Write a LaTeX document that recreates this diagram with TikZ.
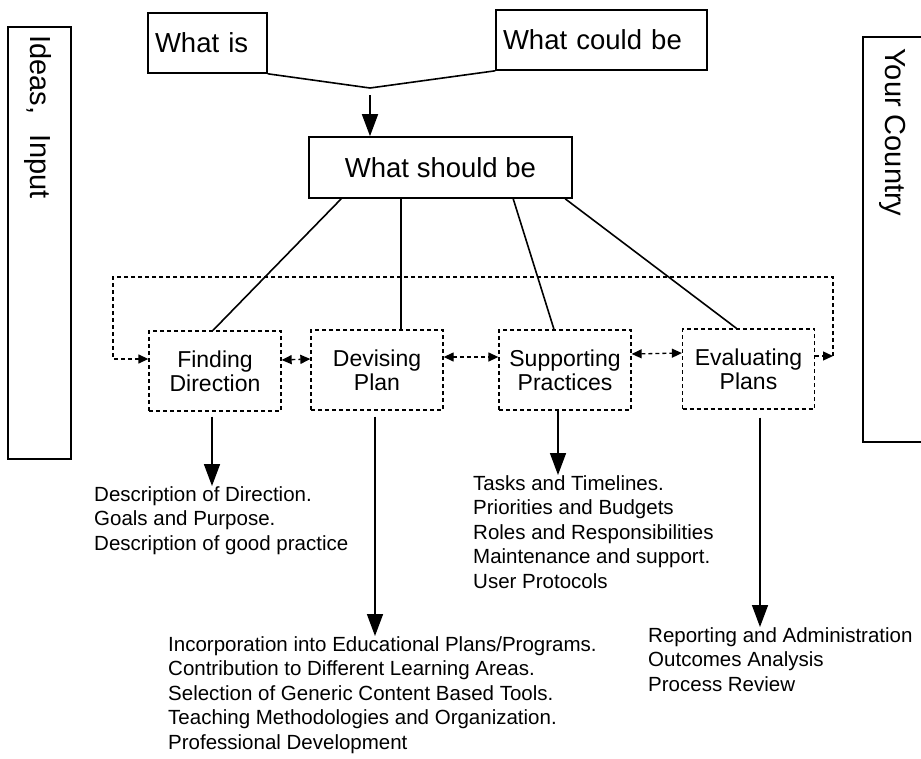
\documentclass[tikz,border=0pt]{standalone}
\usepackage{fontspec}
\setmainfont{Liberation Sans}
\usetikzlibrary{arrows.meta}

\begin{document}
\begin{tikzpicture}[x=1pt, y=-1pt,
		solidbox/.style={draw, line width=1.6pt, inner sep=0pt},
		topbox/.style={solidbox, minimum height=60pt, align=left, font=\fontsize{27.5}{29}\selectfont},
		dashbox/.style={draw, line width=1.3pt, dash pattern=on 4pt off 3pt, minimum width=132pt, minimum height=80pt, inner sep=0pt, align=center, font=\fontsize{23}{24}\selectfont},
		listtext/.style={anchor=north west, inner sep=0pt, align=left, font=\fontsize{20.5}{24.5}\selectfont},
		sidetext/.style={rotate=-90, anchor=west, inner sep=0pt, font=\fontsize{29}{30}\selectfont},
		joinline/.style={line width=1.6pt},
		bigarrow/.style={line width=1.6pt, -{Triangle[width=16pt,length=22pt]}},
		dasharrow/.style={line width=1.3pt, dash pattern=on 4pt off 3pt, -{Triangle[width=9pt,length=10pt]}},
		dbarrow/.style={dasharrow, {Triangle[width=9pt,length=10pt]}-{Triangle[width=9pt,length=10pt]}}]
		%%%%% START %%%%%
		\useasboundingbox (0,0) rectangle (921,758);
		\clip (0,0) rectangle (921,758);
		
		\node[solidbox, minimum width=63pt, minimum height=432pt] (ideas) at (39.5,243) {};
		\node[sidetext] (ideaslbl) at (38,35) {Ideas,\hspace{0.7em}Input};
		\node[solidbox, minimum width=80pt, minimum height=405pt] (country) at (903,239.5) {};
		\node[sidetext] (countrylbl) at (893,48) {Your Country};
		
		\node[topbox, minimum width=119pt, text width=105pt] (whatis) at (207.5,43) {What is};
		\node[topbox, minimum width=211pt, text width=197pt] (whatcould) at (601.5,40) {What could be};
		\node[solidbox, minimum width=263pt, minimum height=61pt, font=\fontsize{27.5}{29}\selectfont] (should) at (440.5,167.5) {What should be};
		
		\coordinate (join) at (370,88);
		\draw[joinline] (whatis.south east) -- (join) -- (whatcould.south west);
		\draw[bigarrow, shorten <=7pt] (join) -- (join |- should.north);
		
		\node[dashbox] (find) at (215,371) {Finding\\Direction};
		\node[dashbox] (devise) at (377,370) {Devising\\Plan};
		\node[dashbox] (support) at (565,370) {Supporting\\Practices};
		\node[dashbox] (evaluate) at (748.5,369) {Evaluating\\Plans};
		
		\coordinate (d0) at ([xshift=93pt]should.south west);
		\draw[joinline] ([xshift=33pt]should.south west) -- ([xshift=-2pt]find.north);
		\draw[joinline] (d0) -- (d0 |- devise.north);
		\draw[joinline] ([xshift=205pt]should.south west) -- ([xshift=-11pt]support.north);
		\draw[joinline] ([xshift=257pt]should.south west) -- ([xshift=-12pt]evaluate.north);
		
		\draw[dbarrow] ([yshift=11pt]find.east) -- ([yshift=11pt]devise.west);
		\draw[dbarrow] ([yshift=13pt]devise.east) -- ([yshift=13pt]support.west);
		\draw[dbarrow] ([yshift=16pt]support.east) -- ([yshift=16pt]evaluate.west);
		
		\coordinate (loopr) at (833,356);
		\coordinate (loopl) at (113,277);
		\draw[dasharrow] ([yshift=13pt]evaluate.east) -- (loopr);
		\draw[dasharrow] (loopr) |- (loopl) |- ([yshift=12pt]find.west);
		
		\node[listtext] (dirlist) at (94,486) {Description of Direction.\\Goals and Purpose.\\Description of good practice};
		\node[listtext] (planlist) at (168,636) {Incorporation into Educational Plans/Programs.\\Contribution to Different Learning Areas.\\Selection of Generic Content Based Tools.\\Teaching Methodologies and Organization.\\Professional Development};
		\node[listtext] (suplist) at (473,475) {Tasks and Timelines.\\Priorities and Budgets\\Roles and Responsibilities\\Maintenance and support.\\User Protocols};
		\node[listtext] (evallist) at (648,627) {Reporting and Administration\\Outcomes Analysis\\Process Review};
		
		\coordinate (f0) at ([xshift=-3pt]find.south);
		\coordinate (p0) at ([xshift=-2pt]devise.south);
		\coordinate (s0) at ([xshift=-7pt]support.south);
		\coordinate (e0) at ([xshift=11.5pt]evaluate.south);
		\draw[bigarrow, shorten <=5pt] (f0) -- (f0 |- dirlist.north);
		\draw[bigarrow, shorten <=6pt] (p0) -- (p0 |- planlist.north);
		\draw[bigarrow] (s0) -- (s0 |- suplist.north);
		\draw[bigarrow, shorten <=8pt] (e0) -- (e0 |- evallist.north);
		
		%%%%% END %%%%%
	\end{tikzpicture}
\end{document}
